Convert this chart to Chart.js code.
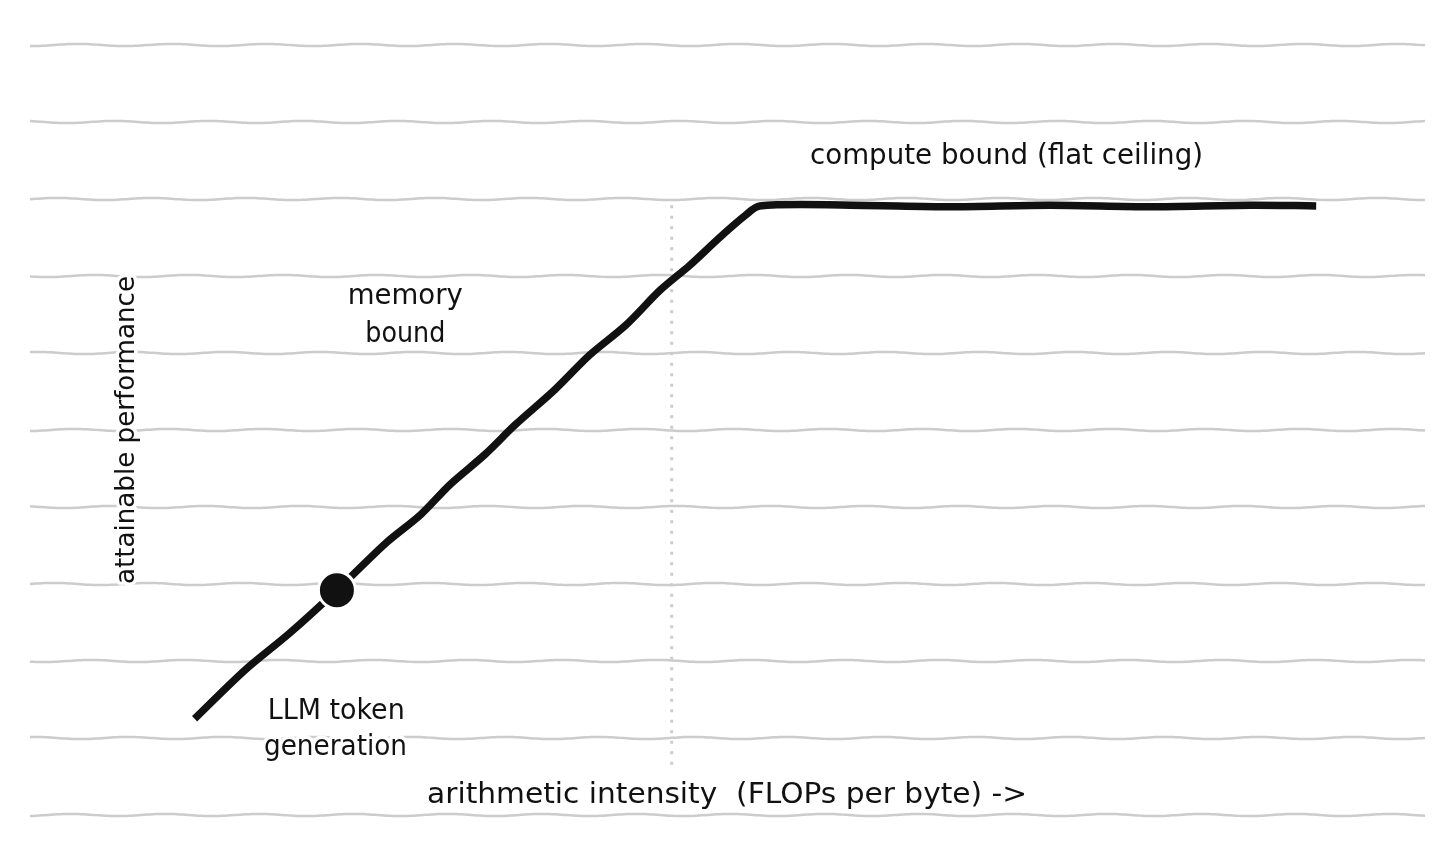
<!DOCTYPE html>
<html>
<head>
<meta charset="utf-8">
<script src="https://cdn.jsdelivr.net/npm/chart.js@4.4.1/dist/chart.umd.min.js"></script>
<style>
  html, body { margin: 0; padding: 0; background: #ffffff; }
  #wrap { width: 1455px; height: 860px; }
</style>
</head>
<body>
<div id="wrap"><canvas id="c" width="1455" height="860"></canvas></div>
<script>
// ---- data ----
const rooflineX = [11.8, 15.4, 18.6, 22.0, 25.5, 28.0, 30.1, 32.6, 34.8, 37.6, 40.1, 42.7, 45.2, 47.3, 49.5, 51.3, 52.3, 58.8, 66.0, 73.1, 80.3, 87.5, 92.2];
const rooflineY = [1.25, 1.88, 2.36, 2.92, 3.53, 3.90, 4.29, 4.68, 5.07, 5.52, 5.97, 6.36, 6.82, 7.14, 7.51, 7.79, 7.91, 7.92, 7.90, 7.92, 7.90, 7.92, 7.91];
const workloadPoint = [22.0, 2.92];
const ridgeX = [46.0, 46.0];
const ridgeY = [7.92, 0.65];
const gridValues = [0, 1, 2, 3, 4, 5, 6, 7, 8, 9, 10];
const labelTexts = ['compute bound (flat ceiling)', 'memory', 'bound', 'LLM token', 'generation'];
const labelX = [70.0, 26.9, 26.9, 21.95, 21.9];
const labelY = [8.55, 6.73, 6.24, 1.34, 0.87];
const xTitle = 'arithmetic intensity  (FLOPs per byte) ->';
const yTitle = 'attainable performance';

// ---- styles ----
const FONT = '"DejaVu Sans", "Noto Sans", sans-serif';
const labelWidths = [393, 115, 80, 137, 143];
const xTitleWidth = 600;
const yTitleWidth = 308;

function wavy(ctx, x0, x1, y, seed) {
  ctx.beginPath();
  for (let x = x0; x <= x1; x += 3) {
    const d = 1.1 * Math.sin((x + seed * 37) / 15);
    if (x === x0) ctx.moveTo(x, y + d); else ctx.lineTo(x, y + d);
  }
  ctx.stroke();
}

function haloText(ctx, text, x, y, width, size) {
  ctx.font = size + 'px ' + FONT;
  const w = ctx.measureText(text).width;
  ctx.save();
  ctx.translate(x, y);
  ctx.scale(width / w, 1);
  ctx.lineJoin = 'round';
  ctx.strokeStyle = '#ffffff';
  ctx.lineWidth = 7;
  ctx.strokeText(text, 0, 0);
  ctx.fillStyle = '#111111';
  ctx.fillText(text, 0, 0);
  ctx.restore();
}

const sketchPlugin = {
  id: 'sketch',
  beforeDatasetsDraw(chart) {
    const ctx = chart.ctx, a = chart.chartArea, ys = chart.scales.y;
    ctx.save();
    ctx.strokeStyle = '#cccccc';
    ctx.lineWidth = 2.5;
    gridValues.forEach((v, i) => wavy(ctx, a.left, a.right, ys.getPixelForValue(v), i));
    ctx.restore();
  },
  afterDatasetsDraw(chart) {
    const ctx = chart.ctx, xs = chart.scales.x, ys = chart.scales.y, a = chart.chartArea;
    ctx.save();
    ctx.textAlign = 'center';
    ctx.textBaseline = 'middle';
    labelTexts.forEach((t, i) => {
      haloText(ctx, t, xs.getPixelForValue(labelX[i]), ys.getPixelForValue(labelY[i]), labelWidths[i], 28);
    });
    haloText(ctx, xTitle, xs.getPixelForValue(49.97), ys.getPixelForValue(0.25), xTitleWidth, 29);
    ctx.translate(127, (a.top + a.bottom) / 2);
    ctx.rotate(-Math.PI / 2);
    haloText(ctx, yTitle, 0, 0, yTitleWidth, 27);
    ctx.restore();
  }
};

new Chart(document.getElementById('c'), {
  type: 'line',
  data: {
    datasets: [
      {
        data: [{ x: workloadPoint[0], y: workloadPoint[1] }],
        showLine: false,
        pointRadius: 18.5,
        pointBackgroundColor: '#111111',
        pointBorderColor: '#ffffff',
        pointBorderWidth: 3,
        order: 0
      },
      {
        data: rooflineX.map((x, i) => ({ x, y: rooflineY[i] })),
        borderColor: '#111111',
        borderWidth: 7.5,
        pointRadius: 0,
        tension: 0.3,
        borderCapStyle: 'butt',
        borderJoinStyle: 'round',
        order: 1
      },
      {
        data: ridgeX.map((x, i) => ({ x, y: ridgeY[i] })),
        borderColor: '#cccccc',
        borderWidth: 3,
        borderDash: [3, 7.5],
        pointRadius: 0,
        order: 2
      }
    ]
  },
  options: {
    responsive: false,
    animation: false,
    devicePixelRatio: 1,
    layout: { padding: { left: 30, right: 30, top: 45, bottom: 45 } },
    plugins: { legend: { display: false }, tooltip: { enabled: false } },
    scales: {
      x: { type: 'linear', min: 0, max: 100, display: false },
      y: { type: 'linear', min: 0, max: 10, display: false }
    }
  },
  plugins: [sketchPlugin]
});
</script>
</body>
</html>
